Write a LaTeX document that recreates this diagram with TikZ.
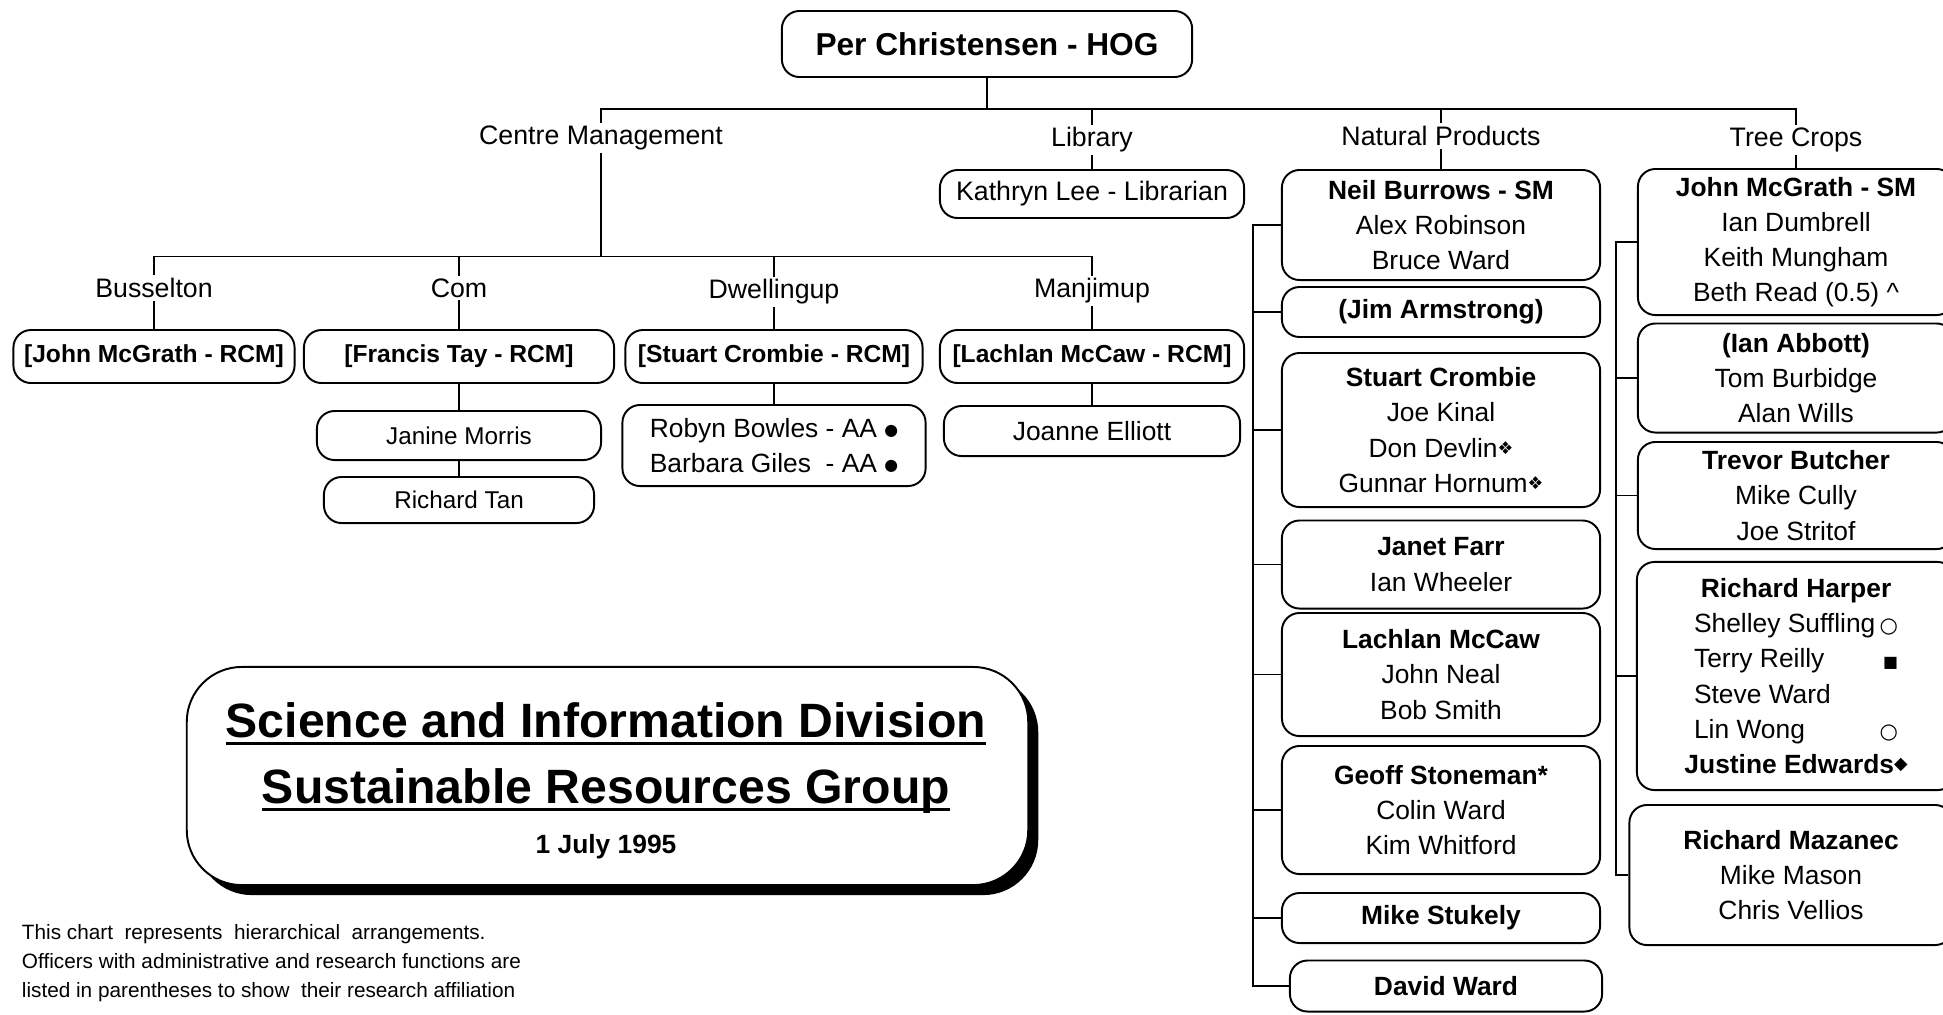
\documentclass[tikz,border=0pt]{standalone}
\usepackage{fontspec}
\setmainfont{Liberation Sans}
\newfontfamily\symfont{DejaVu Sans}
\usetikzlibrary{shadows}

\newcommand{\sym}[2][5]{{\symfont\fontsize{#1}{#1}\selectfont #2}}
\newcommand{\ulbox}[1]{\setbox0=\hbox{#1}\rlap{\vrule width\wd0 height -1.3pt depth 2.3pt}\box0}
\newcommand{\tagline}[2]{\makebox[58pt][l]{#1\hfill#2}}

\tikzset{
  orgbox/.style={draw, rounded corners=5pt, align=center, inner sep=1pt, font=\fontsize{7.5}{10}\selectfont},
  rcmbox/.style={orgbox, font=\fontsize{7}{9}\selectfont\bfseries},
  staffbox/.style={orgbox, font=\fontsize{6.9}{9}\selectfont},
  unitlabel/.style={inner sep=0.5pt, font=\fontsize{7.6}{9}\selectfont},
  titletext/.style={inner sep=0pt, anchor=base, font=\fontsize{13.7}{16}\selectfont\bfseries}
}

\begin{document}
\begin{tikzpicture}[x=0.01cm, y=-0.01cm, line width=0.55pt]

\useasboundingbox (0,0) rectangle (1943,1014);
\clip (0,0) rectangle (1943,1014);

\node [orgbox, minimum width=4.10cm, minimum height=0.66cm, font=\fontsize{9}{11}\selectfont\bfseries] (hog) at (987,44) {Per Christensen - HOG};

\node [unitlabel] (centre) at (601,138) {Centre Management};
\node [unitlabel] (library) at (1092,140) {Library};
\node [unitlabel] (natprod) at (1441,136) {Natural Products};
\node [unitlabel] (treecrops) at (1796,140) {Tree Crops};

\coordinate (topbar) at (987,109);
\draw (hog) -- (topbar);
\draw (centre) |- (topbar) -| (treecrops);
\draw (library) -- (library |- topbar);
\draw (natprod) -- (natprod |- topbar);

\node [orgbox, minimum width=3.04cm, minimum height=0.48cm, font=\fontsize{7.6}{10}\selectfont] (kathryn) at (1092,194) {Kathryn Lee - Librarian};
\draw (library) -- (kathryn);

\node [unitlabel] (busselton) at (154,288) {Busselton};
\node [unitlabel] (como) at (459,288) {Com};
\node [unitlabel] (dwellingup) at (774,292) {Dwellingup};
\node [unitlabel] (manjimup) at (1092,291) {Manjimup};

\coordinate (sitebar) at (601,256.5);
\draw (centre) -- (sitebar);
\draw (busselton) |- (sitebar) -| (manjimup);
\draw (como) -- (como |- sitebar);
\draw (dwellingup) -- (dwellingup |- sitebar);

\node [rcmbox, minimum width=2.81cm, minimum height=0.53cm] (bussrcm) at (154,356.5) {[John McGrath - RCM]};
\node [rcmbox, minimum width=3.10cm, minimum height=0.53cm] (comrcm) at (459,356.5) {[Francis Tay - RCM]};
\node [rcmbox, minimum width=2.97cm, minimum height=0.53cm] (dwelrcm) at (774,356.5) {[Stuart Crombie - RCM]};
\node [rcmbox, minimum width=3.04cm, minimum height=0.53cm] (manjrcm) at (1092,356.5) {[Lachlan McCaw - RCM]};

\node [staffbox, minimum width=2.84cm, minimum height=0.49cm] (janine) at (459,435.5) {Janine Morris};
\node [staffbox, minimum width=2.70cm, minimum height=0.46cm] (rtan) at (459,500) {Richard Tan};
\node [orgbox, minimum width=3.03cm, minimum height=0.81cm] (dwelstaff) at (774,445.5) {Robyn Bowles - AA \raisebox{0.4pt}{\sym[4.5]{●}}\\Barbara Giles~ - AA \raisebox{0.4pt}{\sym[4.5]{●}}};
\node [orgbox, minimum width=2.96cm, minimum height=0.50cm] (joanne) at (1092,431) {Joanne Elliott};

\foreach \a/\b in {busselton/bussrcm, como/comrcm, dwellingup/dwelrcm, manjimup/manjrcm, comrcm/janine, janine/rtan, dwelrcm/dwelstaff, manjrcm/joanne}
  \draw (\a) -- (\b);

\node [orgbox, minimum width=3.18cm, minimum height=1.10cm] (burrows) at (1441,225) {\textbf{Neil Burrows - SM}\\Alex Robinson\\Bruce Ward};
\node [orgbox, minimum width=3.18cm, minimum height=0.50cm] (armstrong) at (1441,312) {\textbf{(Jim Armstrong)}};
\node [orgbox, minimum width=3.18cm, minimum height=1.54cm] (crombie) at (1441,430) {\textbf{Stuart Crombie}\\Joe Kinal\\Don Devlin\raisebox{0.8pt}{\sym{❖}}\\Gunnar Hornum\raisebox{0.8pt}{\sym{❖}}};
\node [orgbox, minimum width=3.18cm, minimum height=0.88cm] (farr) at (1441,564.5) {\textbf{Janet Farr}\\Ian Wheeler};
\node [orgbox, minimum width=3.18cm, minimum height=1.23cm] (mccaw) at (1441,674.5) {\textbf{Lachlan McCaw}\\John Neal\\Bob Smith};
\node [orgbox, minimum width=3.18cm, minimum height=1.28cm] (stoneman) at (1441,810) {\textbf{Geoff Stoneman*}\\Colin Ward\\Kim Whitford};
\node [orgbox, minimum width=3.18cm, minimum height=0.50cm] (stukely) at (1441,918) {\textbf{Mike Stukely}};
\node [orgbox, minimum width=3.12cm, minimum height=0.51cm] (dward) at (1446,986) {\textbf{David Ward}};

\coordinate (npspine) at (1253,0);
\draw (natprod) -- (burrows);
\draw (burrows.west) -- (burrows.west -| npspine) -- (dward.west -| npspine) -- (dward.west);
\foreach \n in {armstrong, crombie, farr, mccaw, stoneman, stukely}
  \draw (\n.west) -- (\n.west -| npspine);

\node [orgbox, minimum width=3.16cm, minimum height=1.46cm] (mcgrath) at (1796,242) {\textbf{John McGrath - SM}\\Ian Dumbrell\\Keith Mungham\\Beth Read (0.5) \textasciicircum};
\node [orgbox, minimum width=3.16cm, minimum height=1.09cm] (abbott) at (1796,378) {\textbf{(Ian Abbott)}\\Tom Burbidge\\Alan Wills};
\node [orgbox, minimum width=3.16cm, minimum height=1.07cm] (butcher) at (1796,495.5) {\textbf{Trevor Butcher}\\Mike Cully\\Joe Stritof};
\node [orgbox, minimum width=3.18cm, minimum height=2.28cm] (harper) at (1796,676) {\textbf{Richard Harper}\\\tagline{Shelley Suffling}{\sym[6]{○}}\\\tagline{Terry Reilly}{\sym[4.5]{■}}\\\tagline{Steve Ward}{}\\\tagline{Lin Wong}{\sym[6]{○}}\\\textbf{Justine Edwards}\raisebox{1pt}{\sym[5]{◆}}};
\node [orgbox, minimum width=3.23cm, minimum height=1.40cm] (mazanec) at (1791,875) {\textbf{Richard Mazanec}\\Mike Mason\\Chris Vellios};

\coordinate (tcspine) at (1616,0);
\draw (treecrops) -- (treecrops |- mcgrath.north);
\draw (mcgrath.west) -- (mcgrath.west -| tcspine) -- (mazanec.west -| tcspine) -- (mazanec.west);
\foreach \n in {abbott, butcher, harper}
  \draw (\n.west) -- (\n.west -| tcspine);

\node [draw, fill=white, rounded corners=0.55cm, minimum width=8.41cm, minimum height=2.18cm, drop shadow={shadow xshift=0.1cm, shadow yshift=-0.1cm, fill=black, opacity=1}] (titlebox) at (607.5,776) {};
\node [titletext] (titleone) at (606,737) {\ulbox{Science and Information Division}};
\node [titletext] (titletwo) at (606,803) {\ulbox{Sustainable Resources Group}};
\node [titletext, font=\fontsize{7.5}{9}\selectfont\bfseries] (titledate) at (606,853) {1 July 1995};

\node [anchor=north west, inner sep=0pt, align=left, font=\fontsize{5.9}{8.25}\selectfont] (chartnote) at (21,923) {This chart~ represents~ hierarchical~ arrangements.\\Officers with administrative and research functions are\\listed in parentheses to show~ their research affiliation};

\end{tikzpicture}
\end{document}
